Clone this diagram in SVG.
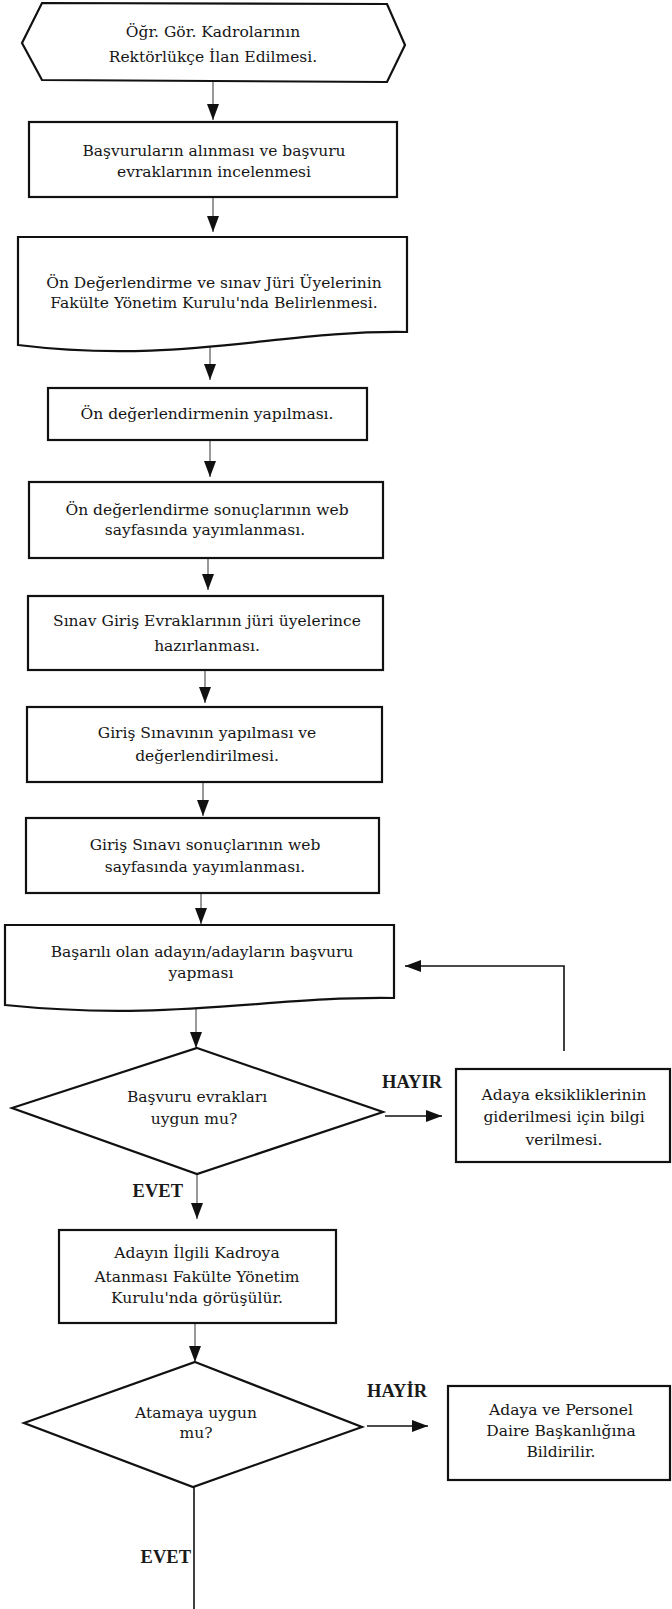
<svg xmlns="http://www.w3.org/2000/svg" width="672" height="1609" viewBox="0 0 672 1609">
<style>
.shape{fill:#fff;stroke:#111;stroke-width:2.2}
.t{font-family:"DejaVu Serif","Liberation Serif",serif;font-size:15.5px;fill:#161616;text-anchor:middle}
.lbl{font-family:"Liberation Serif",serif;font-size:18.5px;font-weight:bold;fill:#1a1a1a}
.flow{fill:none;stroke:#555;stroke-width:1.2}
.flowk{fill:none;stroke:#111;stroke-width:1.6}
</style>
<defs>
<marker id="ah" viewBox="0 0 16 12" refX="16" refY="6" markerWidth="16" markerHeight="12" markerUnits="userSpaceOnUse" orient="auto">
<path d="M0,0 L16,6 L0,12 Z" fill="#111"/>
</marker>
</defs>
<rect width="672" height="1609" fill="#fff"/>

<g id="connectors">
<line class="flow" x1="213" y1="82" x2="213" y2="120" marker-end="url(#ah)"/>
<line class="flow" x1="213" y1="197" x2="213" y2="232" marker-end="url(#ah)"/>
<line class="flow" x1="210" y1="342" x2="210" y2="380" marker-end="url(#ah)"/>
<line class="flow" x1="210" y1="440" x2="210" y2="477" marker-end="url(#ah)"/>
<line class="flow" x1="208" y1="558" x2="208" y2="590" marker-end="url(#ah)"/>
<line class="flow" x1="205" y1="670" x2="205" y2="703" marker-end="url(#ah)"/>
<line class="flow" x1="203" y1="782" x2="203" y2="816" marker-end="url(#ah)"/>
<line class="flow" x1="201" y1="893" x2="201" y2="924" marker-end="url(#ah)"/>
<line class="flow" x1="196" y1="1008" x2="196" y2="1048" marker-end="url(#ah)"/>
<line class="flow" x1="197" y1="1174" x2="197" y2="1219" marker-end="url(#ah)"/>
<line class="flow" x1="195" y1="1323" x2="195" y2="1362" marker-end="url(#ah)"/>
<line class="flowk" x1="385" y1="1116" x2="442" y2="1116" marker-end="url(#ah)"/>
<polyline class="flowk" points="564,1051 564,966 405,966" marker-end="url(#ah)"/>
<line class="flowk" x1="367" y1="1426" x2="428" y2="1426" marker-end="url(#ah)"/>
<line class="flowk" x1="194" y1="1477" x2="194" y2="1609"/>
<text class="lbl" x="442" y="1088" text-anchor="end">HAYIR</text>
<text class="lbl" x="183" y="1197" text-anchor="end">EVET</text>
<text class="lbl" x="427" y="1397" text-anchor="end">HAYİR</text>
<text class="lbl" x="191" y="1563" text-anchor="end">EVET</text>
</g>

<g id="n1">
<polygon class="shape" points="42,3 387,4 405,45 387,82 42,80 22,43"/>
<text class="t" x="213" y="37">Öğr. Gör. Kadrolarının</text>
<text class="t" x="213" y="62">Rektörlükçe İlan Edilmesi.</text>
</g>

<g id="n2">
<rect class="shape" x="29" y="122" width="368" height="75"/>
<text class="t" x="214" y="156">Başvuruların alınması ve başvuru</text>
<text class="t" x="214" y="177">evraklarının incelenmesi</text>
</g>

<g id="n3">
<path class="shape" d="M18,237 H407 V332 C280,330 180,365 18,345 Z"/>
<text class="t" x="214" y="288">Ön Değerlendirme ve sınav Jüri Üyelerinin</text>
<text class="t" x="214" y="308">Fakülte Yönetim Kurulu'nda Belirlenmesi.</text>
</g>

<g id="n4">
<rect class="shape" x="48" y="388" width="319" height="52"/>
<text class="t" x="207" y="419">Ön değerlendirmenin yapılması.</text>
</g>

<g id="n5">
<rect class="shape" x="29" y="482" width="354" height="76"/>
<text class="t" x="207" y="515">Ön değerlendirme sonuçlarının web</text>
<text class="t" x="205" y="535">sayfasında yayımlanması.</text>
</g>

<g id="n6">
<rect class="shape" x="28" y="596" width="355" height="74"/>
<text class="t" x="207" y="626">Sınav Giriş Evraklarının jüri üyelerince</text>
<text class="t" x="207" y="651">hazırlanması.</text>
</g>

<g id="n7">
<rect class="shape" x="27" y="707" width="355" height="75"/>
<text class="t" x="207" y="738">Giriş Sınavının yapılması ve</text>
<text class="t" x="207" y="761">değerlendirilmesi.</text>
</g>

<g id="n8">
<rect class="shape" x="26" y="818" width="353" height="75"/>
<text class="t" x="205" y="850">Giriş Sınavı sonuçlarının web</text>
<text class="t" x="205" y="872">sayfasında yayımlanması.</text>
</g>

<g id="n9">
<path class="shape" d="M5,925 H394 V998 C270,996 170,1022 5,1005 Z"/>
<text class="t" x="202" y="957">Başarılı olan adayın/adayların başvuru</text>
<text class="t" x="201" y="978">yapması</text>
</g>

<g id="n10">
<polygon class="shape" points="197,1048 383,1112 197,1174 12,1108"/>
<text class="t" x="197" y="1102">Başvuru evrakları</text>
<text class="t" x="194" y="1124">uygun mu?</text>
</g>

<g id="n11">
<rect class="shape" x="456" y="1069" width="214" height="93"/>
<text class="t" x="564" y="1100">Adaya eksikliklerinin</text>
<text class="t" x="564" y="1122">giderilmesi için bilgi</text>
<text class="t" x="564" y="1145">verilmesi.</text>
</g>

<g id="n12">
<rect class="shape" x="59" y="1230" width="277" height="93"/>
<text class="t" x="197" y="1258">Adayın İlgili Kadroya</text>
<text class="t" x="197" y="1282">Atanması Fakülte Yönetim</text>
<text class="t" x="197" y="1303">Kurulu'nda görüşülür.</text>
</g>

<g id="n13">
<polygon class="shape" points="195,1362 362,1427 193,1487 24,1423"/>
<text class="t" x="196" y="1418">Atamaya uygun</text>
<text class="t" x="196" y="1438">mu?</text>
</g>

<g id="n14">
<rect class="shape" x="448" y="1386" width="222" height="94"/>
<text class="t" x="561" y="1415">Adaya ve Personel</text>
<text class="t" x="561" y="1436">Daire Başkanlığına</text>
<text class="t" x="561" y="1457">Bildirilir.</text>
</g>
</svg>
